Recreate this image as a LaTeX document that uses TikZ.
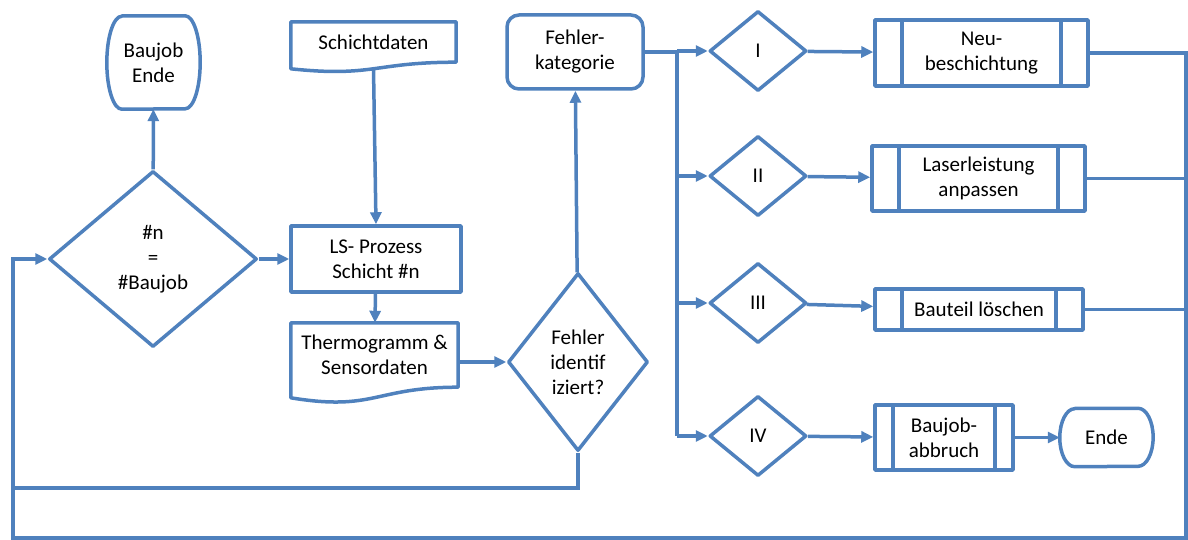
\documentclass[tikz,border=0pt]{standalone}
\usepackage{fontspec}
\setmainfont{Carlito}
\usepackage{tikz}
\usetikzlibrary{shapes.geometric, arrows.meta, positioning, calc}
\definecolor{flowblue}{RGB}{79,129,189}
\tikzset{
    txt/.style={
        font=\fontsize{21}{25}\selectfont,
        align=center,
        text=black
    },
    outline/.style={
        draw=flowblue,
        line width=3.5pt,
        line join=round
    },
    terminal/.style={
        rectangle,
        draw=none,
        inner sep=0pt,
        txt
    },
    process/.style={
        rectangle,
        outline,
        fill=white,
        txt
    },
    category/.style={
        rectangle,
        rounded corners=12pt,
        outline,
        fill=white,
        txt
    },
    decision/.style={
        diamond,
        outline,
        fill=white,
        inner sep=0pt,
        txt
    },
    docshape/.style={
        rectangle,
        draw=none,
        inner sep=0pt,
        txt
    },
    predef/.style={
        rectangle,
        outline,
        fill=white,
        txt,
        path picture={
            \draw[outline] ([xshift=#1]path picture bounding box.north west) -- ([xshift=#1]path picture bounding box.south west);
            \draw[outline] ([xshift=-#1]path picture bounding box.north east) -- ([xshift=-#1]path picture bounding box.south east);
        }
    },
    predef/.default=27pt,
    flow/.style={
        draw=flowblue,
        line width=3.5pt,
        -{Triangle[length=12pt,width=11pt]}
    },
    feedback/.style={
        draw=flowblue,
        line width=3.5pt
    }
}

\begin{document}
\begin{tikzpicture}[x=1pt, y=-1pt]
\useasboundingbox (0,0) rectangle (1188,540);

% Job loop
\node[terminal, minimum width=93pt, minimum height=93pt] (jobend) at (153.5,62.5) {Baujob\\Ende};
\node[decision, minimum width=208pt, minimum height=176pt] (layercheck) at (153,259) {\#n\\=\\\#Baujob};

\draw[outline] ($(jobend.north west)+(15,0)$) -- ($(jobend.north east)+(-15,0)$)
    arc[start angle=90, end angle=-90, x radius=15pt, y radius=46.5pt]
    -- ($(jobend.south west)+(15,0)$)
    arc[start angle=270, end angle=90, x radius=15pt, y radius=46.5pt] -- cycle;

% Layer process
\node[docshape, minimum width=165pt, minimum height=40pt] (layerdata) at (373.5,42) {Schichtdaten};
\node[process, minimum width=170pt, minimum height=66pt] (lsprocess) at (376,259) {LS- Prozess\\Schicht \#n};
\node[docshape, minimum width=167pt, minimum height=64pt] (thermo) at (374.5,355) {Thermogramm \&\\Sensordaten};

\draw[outline] (layerdata.north west) -- (layerdata.north east) -- (layerdata.south east)
    .. controls (layerdata.south) and ($(layerdata.south)+(0,15.3)$) .. ($(layerdata.south west)+(0,6.6)$) -- cycle;
\draw[outline] (thermo.north west) -- (thermo.north east) -- (thermo.south east)
    .. controls (thermo.south) and ($(thermo.south)+(0,24.4)$) .. ($(thermo.south west)+(0,10.6)$) -- cycle;

% Error detection
\node[decision, minimum width=140pt, minimum height=178pt] (errcheck) at (578,362) {Fehler\\identif\\iziert?};
\node[category, minimum width=136pt, minimum height=74pt] (errcat) at (575,52) {Fehler-\\kategorie};

% Error categories
\node[decision, minimum width=97pt, minimum height=80pt] (cat1) at (758,51) {I};
\node[decision, minimum width=97pt, minimum height=80pt] (cat2) at (758,176) {II};
\node[decision, minimum width=97pt, minimum height=80pt] (cat3) at (758,303) {III};
\node[decision, minimum width=97pt, minimum height=80pt] (cat4) at (758,436) {IV};

% Countermeasures
\node[predef, minimum width=213pt, minimum height=66pt] (recoat) at (981.5,53) {Neu-\\beschichtung};
\node[predef, minimum width=213pt, minimum height=65pt] (power) at (978.5,178.5) {Laserleistung\\anpassen};
\node[predef, minimum width=208pt, minimum height=41pt] (delete) at (979,309.5) {Bauteil löschen};
\node[predef=18pt, minimum width=138pt, minimum height=65pt] (abort) at (944,437.5) {Baujob-\\abbruch};
\node[terminal, minimum width=93pt, minimum height=58pt, right=45pt of abort] (stop) {Ende};

\draw[outline] ($(stop.north west)+(15,0)$) -- ($(stop.north east)+(-15,0)$)
    arc[start angle=90, end angle=-90, x radius=15pt, y radius=29pt]
    -- ($(stop.south west)+(15,0)$)
    arc[start angle=270, end angle=90, x radius=15pt, y radius=29pt] -- cycle;

% Main flow
\draw[flow] (layercheck) -- (jobend);
\draw[flow] (layercheck) -- (lsprocess);
\draw[flow] ($(layerdata.south)+(0,6.5)$) -- (lsprocess.north);
\draw[flow] (lsprocess) -- (thermo);
\draw[flow] (thermo.east |- errcheck.west) -- (errcheck.west);
\draw[flow] (errcheck) -- (errcat);

% Branching
\coordinate (bustop) at (677,52);
\coordinate (busbot) at (677,436);
\draw[feedback] (errcat.east) -- (bustop) -- (busbot);
\foreach \c in {cat1,cat2,cat3,cat4}
    \draw[flow] (bustop |- \c) -- (\c);
\draw[flow] (cat1) -- (recoat);
\draw[flow] (cat2) -- (power);
\draw[flow] (cat3) -- (delete);
\draw[flow] (cat4) -- (abort);
\draw[flow] (abort) -- (stop);

% Feedback
\coordinate (rightbot) at (1186,538);
\coordinate (leftbot) at (13,538);
\coordinate (leftmid) at (13,488);
\draw[flow] (recoat.east) -| (rightbot) -- (leftbot) |- (layercheck.west);
\foreach \p in {power,delete}
    \draw[feedback] (\p.east) -- (\p.east -| rightbot);
\draw[feedback] (errcheck.south) |- (leftmid);

\end{tikzpicture}
\end{document}
